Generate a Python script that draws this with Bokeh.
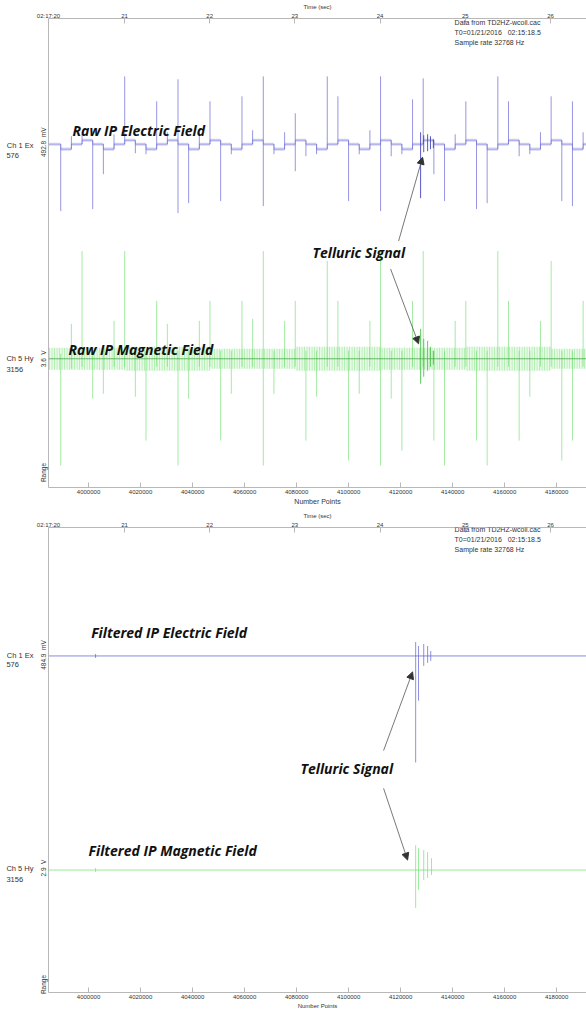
from bokeh.plotting import figure
from bokeh.models import Range1d, LinearAxis, FixedTicker, Label, Arrow, NormalHead, BasicTickFormatter
from bokeh.layouts import column
from bokeh.embed import file_html
from bokeh.resources import INLINE

# ---------------- data ----------------
X0, X1 = 3984600, 4191500            # sample-number range shown
T0, T1 = 20.108, 26.423              # same range in seconds (02:17:xx)
num_ticks = [4000000, 4020000, 4040000, 4060000, 4080000, 4100000, 4120000, 4140000, 4160000, 4180000]
time_ticks = [20.108, 21, 22, 23, 24, 25, 26]
time_labels = ["02:17:20", "21", "22", "23", "24", "25", "26"]

EX_BASE = 344      # display offset of channel 1 (Ex)
HY_BASE = 129      # display offset of channel 5 (Hy)

# transmitter switching instants (sample numbers)
sw_n = [3989300, 3993400, 3997500, 4001600, 4005700, 4009800, 4013900, 4018000, 4022100, 4026200,
        4030300, 4034400, 4038500, 4042600, 4046700, 4050800, 4054900, 4059000, 4063100, 4067200,
        4071300, 4075400, 4079500, 4083600, 4087700, 4091800, 4095900, 4100000, 4104100, 4108200,
        4112300, 4116400, 4120500, 4124600, 4128700, 4132800, 4136900, 4141000, 4145100, 4149200,
        4153300, 4157400, 4161500, 4165600, 4169700, 4173800, 4177900, 4182000, 4186100, 4190200]

# raw Ex: level after each switch and transient extremes (relative to channel offset)
ex_level = [-5, 0, 4, 0, -5, 0, 4, 0, -5, 0, 4, 0, -5, 0, 4, 0, -5, 0, 4, 0, -5, 0, 4, 0, -5,
            0, 4, 0, -5, 0, 4, 0, -5, 0, 4, 0, -5, 0, 4, 0, -5, 0, 4, 0, -5, 0, 4, 0, -5, 0]
ex_hi = [0, 8, 10, 4, 0, 10, 68, 4, 0, 43, 12, 65, 0, 12, 43, 4, 0, 48, 14, 68, 0, 12, 31, 4, 0,
         68, 48, 4, 0, 14, 68, 4, 0, 45, 66, 4, 0, 10, 43, 4, 0, 68, 43, 4, 0, 12, 48, 4, 43, 12]
ex_lo = [-67, -5, 0, -65, -30, -5, 0, -9, -10, -5, 0, -69, -59, -5, 0, -57, -10, -5, 0, -62, -10,
         -5, -27, -12, -10, -5, 0, -57, -10, -5, -67, -12, -10, -5, 0, -30, -57, -5, 0, -65, -59,
         -5, 0, -12, -10, -5, 0, -57, -62, -5]
# raw Hy transients
hy_hi = [5, 35, 108, 8, 8, 38, 108, 8, 8, 58, 35, 8, 8, 38, 58, 8, 8, 58, 40, 108, 8, 38, 58, 8, 8,
         98, 58, 8, 8, 38, 108, 8, 8, 58, 108, 8, 8, 38, 58, 8, 8, 108, 58, 8, 8, 38, 98, 8, 8, 58]
hy_lo = [-107, -10, -8, -40, -35, -8, -8, -38, -82, -8, -8, -107, -40, -8, -8, -82, -35, -8, -8, -107,
         -35, -8, -8, -82, -38, -8, -8, -102, -35, -8, -107, -40, -92, -8, -8, -82, -107, -8, -8, -82,
         -107, -8, -8, -82, -38, -8, -8, -102, -82, -8]
hy_band_n = [3984600, 4013900, 4046700, 4079500, 4112300, 4145100, 4177900, 4191500]
hy_band_hi = [11, 12, 10, 12, 11, 12, 10, 10]
hy_band_lo = [-11, -12, -10, -12, -11, -12, -10, -10]

# telluric burst (raw and filtered)
tel_n = [4127700, 4128900, 4130400, 4131500, 4132600]
tel_ex_raw_hi = [12, 9, 10, 8, 5]
tel_ex_raw_lo = [-54, -8, -7, -5, -4]
tel_hy_raw_hi = [30, 20, 18, 12, 8]
tel_hy_raw_lo = [-25, -18, -12, -8, -6]
fex_spike_n = [4002700, 4125800, 4126900, 4128900, 4130400, 4131600]
fex_spike_hi = [2, 14, 10, 12, 10, 5]
fex_spike_lo = [-2, -107, -45, -10, -7, -5]
fhy_spike_n = [4002700, 4125800, 4126900, 4128900, 4130400, 4131900]
fhy_spike_hi = [2, 25, 22, 20, 18, 12]
fhy_spike_lo = [-2, -38, -20, -10, -8, -5]

BLUE = "#5a5ad4"
GREEN = "#6ee06e"
AXC = "#b8b8b8"
TXT = "#333333"
SMALL = "Liberation Sans"
BIG = "Open Sans"
NB = "\u00a0"


def make_panel(height, top, bottom, ylo, yhi, ch_ticks, ch_labels, unit_ticks, unit_labels, xlabel_size):
    p = figure(width=586, height=height, output_backend="svg", toolbar_location=None,
               x_range=Range1d(X0, X1), y_range=Range1d(ylo, yhi),
               min_border_left=48, min_border_right=0, min_border_top=top, min_border_bottom=bottom,
               x_axis_location=None, y_axis_location=None)
    p.outline_line_color = None
    p.grid.visible = False
    p.background_fill_color = "white"

    xb = LinearAxis(ticker=FixedTicker(ticks=num_ticks), formatter=BasicTickFormatter(use_scientific=False))
    xb.axis_label = "Number Points"
    xb.axis_label_text_font = SMALL
    xb.axis_label_text_font_style = "normal"
    xb.axis_label_text_font_size = xlabel_size
    xb.axis_label_standoff = 1
    xb.axis_label_text_color = TXT
    xb.major_label_text_font = SMALL
    xb.major_label_text_font_size = "6px"
    xb.major_label_text_color = TXT
    xb.major_label_standoff = 2
    xb.major_tick_in = 5
    xb.major_tick_out = 0
    xb.minor_tick_line_color = None
    xb.axis_line_color = AXC
    xb.major_tick_line_color = AXC
    p.add_layout(xb, "below")

    p.extra_x_ranges = {"t": Range1d(T0, T1)}
    xt = LinearAxis(x_range_name="t", ticker=FixedTicker(ticks=time_ticks))
    xt.major_label_overrides = {k: v for k, v in zip(time_ticks, time_labels)}
    xt.axis_label = "Time (sec)"
    xt.axis_label_text_font = SMALL
    xt.axis_label_text_font_style = "normal"
    xt.axis_label_text_font_size = "6px"
    xt.axis_label_standoff = 0
    xt.axis_label_text_color = TXT
    xt.major_label_text_font = SMALL
    xt.major_label_text_font_size = "6px"
    xt.major_label_text_color = TXT
    xt.major_label_standoff = 0
    xt.major_tick_in = 5
    xt.major_tick_out = 0
    xt.minor_tick_line_color = None
    xt.axis_line_color = AXC
    xt.major_tick_line_color = AXC
    p.add_layout(xt, "above")

    yl = LinearAxis(ticker=FixedTicker(ticks=unit_ticks))
    yl.major_label_overrides = {k: v for k, v in zip(unit_ticks, unit_labels)}
    yl.major_label_orientation = "parallel"
    yl.major_label_text_font = SMALL
    yl.major_label_text_font_size = "6.5px"
    yl.major_label_text_color = TXT
    yl.major_label_standoff = 1
    yl.major_tick_in = 0
    yl.major_tick_out = 0
    yl.axis_line_color = AXC
    yl.minor_tick_line_color = None
    yl.major_tick_line_color = None
    p.add_layout(yl, "left")

    yc = LinearAxis(ticker=FixedTicker(ticks=ch_ticks))
    yc.major_label_overrides = {k: v for k, v in zip(ch_ticks, ch_labels)}
    yc.major_label_text_font = SMALL
    yc.major_label_text_font_size = "7.5px"
    yc.major_label_text_color = TXT
    yc.major_label_standoff = 4
    yc.major_tick_in = 0
    yc.major_tick_out = 0
    yc.axis_line_color = None
    yc.minor_tick_line_color = None
    yc.major_tick_line_color = None
    p.add_layout(yc, "left")
    return p


def small_label(p, x, y, text, size="7px"):
    p.add_layout(Label(x=x, y=y, text=text, text_font=SMALL, text_font_size=size, text_color=TXT,
                       text_align="left", text_baseline="middle"))


def big_label(p, x, y, text):
    p.add_layout(Label(x=x, y=y, text=text, text_font=BIG, text_font_size="14px", text_font_style="bold italic",
                       text_color="#111111", text_align="left", text_baseline="middle"))


def arrow(p, xs, ys, xe, ye):
    p.add_layout(Arrow(end=NormalHead(size=7, fill_color="#333333", line_color="#333333"),
                       x_start=xs, y_start=ys, x_end=xe, y_end=ye, line_color="#555555", line_width=0.8))


def info(p, y0):
    for i, t in enumerate(["Data from TD2HZ-wcoil.cac", "T0=01/21/2016" + NB * 3 + "02:15:18.5",
                           "Sample rate 32768 Hz"]):
        small_label(p, 4140770, y0 - i * 9.8, t, size="7px")


def rel(base, vals):
    return [base + v for v in vals]


ch_names = ["Ch 1 Ex", "576" + NB * 7, "Ch 5 Hy", "3156" + NB * 5]

# ---------------- panel 1: raw ----------------
p1 = make_panel(509, 17, 22, 0, 470,
                [343, 333, 129, 118], ch_names,
                [346, 129, 15], ["492.8" + NB * 2 + "mV", "3.6" + NB * 2 + "V", "Range"], "7px")
step_x = [X0] + sw_n + [X1]
step_y = rel(EX_BASE, [0] + ex_level + [ex_level[-1]])
p1.varea_step(x=step_x, y1=[v - 1.6 for v in step_y], y2=[v + 1.6 for v in step_y], step_mode="after",
              fill_color=BLUE, fill_alpha=0.25)
p1.step(x=step_x, y=step_y, mode="after", line_color=BLUE, line_width=0.6, line_alpha=0.6)
p1.segment(x0=sw_n, x1=sw_n, y0=rel(EX_BASE, ex_lo), y1=rel(EX_BASE, ex_hi),
           line_color=BLUE, line_width=0.8, line_alpha=0.8)
p1.segment(x0=tel_n, x1=tel_n, y0=rel(EX_BASE, tel_ex_raw_lo), y1=rel(EX_BASE, tel_ex_raw_hi),
           line_color="#3030b8", line_width=0.9, line_alpha=0.9)

p1.varea_step(x=hy_band_n, y1=rel(HY_BASE, hy_band_lo), y2=rel(HY_BASE, hy_band_hi),
              step_mode="after", fill_color=GREEN, fill_alpha=0.15, hatch_pattern="|", hatch_color=GREEN,
              hatch_scale=2.5, hatch_weight=0.7, hatch_alpha=0.7)
p1.segment(x0=sw_n, x1=sw_n, y0=rel(HY_BASE, hy_lo), y1=rel(HY_BASE, hy_hi),
           line_color=GREEN, line_width=0.8, line_alpha=0.8)
p1.segment(x0=tel_n, x1=tel_n, y0=rel(HY_BASE, tel_hy_raw_lo), y1=rel(HY_BASE, tel_hy_raw_hi),
           line_color="#3cc03c", line_width=0.9, line_alpha=0.9)
p1.line(x=[X0, X1], y=[HY_BASE, HY_BASE], line_color="#4aa84a", line_width=0.8)

info(p1, 466)
big_label(p1, 3993846, 358, "Raw IP Electric Field")
big_label(p1, 3992308, 138.5, "Raw IP Magnetic Field")
big_label(p1, 4086154, 236, "Telluric Signal")
arrow(p1, 4119231, 247, 4128462, 331)
arrow(p1, 4116154, 219, 4126923, 144)

# ---------------- panel 2: filtered ----------------
p2 = make_panel(502, 17, 18, 6, 473,
                [344, 335, 131, 119], ch_names,
                [345, 131, 14], ["484.9" + NB * 2 + "mV", "2.9" + NB * 2 + "V", "Range"], "6px")
p2.line(x=[X0, X1], y=[EX_BASE, EX_BASE], line_color=BLUE, line_width=0.8, line_alpha=0.9)
p2.segment(x0=fex_spike_n, x1=fex_spike_n, y0=rel(EX_BASE, fex_spike_lo), y1=rel(EX_BASE, fex_spike_hi),
           line_color=BLUE, line_width=0.8, line_alpha=0.85)
p2.line(x=[X0, X1], y=[HY_BASE, HY_BASE], line_color=GREEN, line_width=0.8, line_alpha=0.9)
p2.segment(x0=fhy_spike_n, x1=fhy_spike_n, y0=rel(HY_BASE, fhy_spike_lo), y1=rel(HY_BASE, fhy_spike_hi),
           line_color=GREEN, line_width=0.8, line_alpha=0.85)

info(p2, 470.5)
big_label(p2, 4001000, 368, "Filtered IP Electric Field")
big_label(p2, 4081538, 231, "Telluric Signal")
big_label(p2, 4000000, 149, "Filtered IP Magnetic Field")
arrow(p2, 4113462, 249, 4124615, 328)
arrow(p2, 4113462, 211, 4122692, 139)

layout = column(p1, p2, spacing=0)
open("out.html", "w").write(file_html(layout, INLINE))
